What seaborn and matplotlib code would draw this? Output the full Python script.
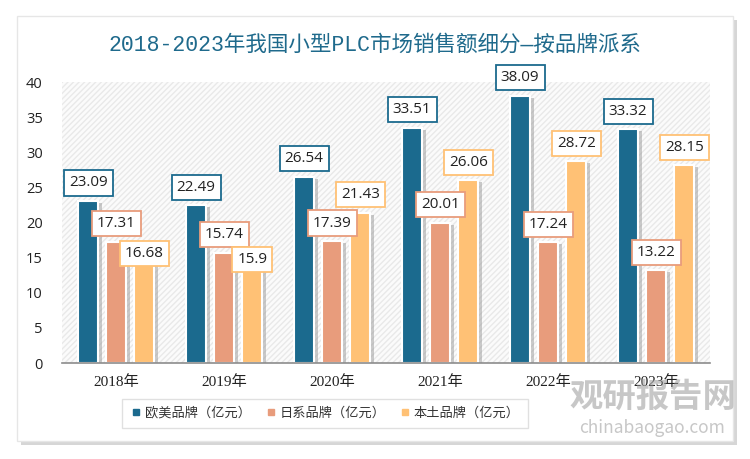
import matplotlib
matplotlib.use("Agg")
import matplotlib.pyplot as plt
import matplotlib.patheffects as pe
from matplotlib.patches import Rectangle, FancyBboxPatch
from matplotlib.lines import Line2D
import seaborn as sns
import pandas as pd

years = ["2018年", "2019年", "2020年", "2021年", "2022年", "2023年"]
series = ["欧美品牌（亿元）", "日系品牌（亿元）", "本土品牌（亿元）"]
western = [23.09, 22.49, 26.54, 33.51, 38.09, 33.32]
japanese = [17.31, 15.74, 17.39, 20.01, 17.24, 13.22]
domestic = [16.68, 15.9, 21.43, 26.06, 28.72, 28.15]
colors = ["#1B6A8E", "#E89C7C", "#FFC175"]
title = "2018-2023年我国小型PLC市场销售额细分—按品牌派系"

sns.set_theme(style="white")
plt.rcParams['font.family'] = ['Noto Sans CJK SC', 'DejaVu Sans']

df = pd.DataFrame({
    "year": years * 3,
    "series": [series[0]] * 6 + [series[1]] * 6 + [series[2]] * 6,
    "value": western + japanese + domestic,
})

fig = plt.figure(figsize=(7.5, 4.59), dpi=100)
fig.patch.set_facecolor("white")
# card with shadow
card = FancyBboxPatch((0.022, 0.04), 0.955, 0.925, boxstyle="square,pad=0",
                      transform=fig.transFigure, facecolor="white",
                      edgecolor="#E6E6E6", linewidth=1, zorder=-5,
                      path_effects=[pe.SimplePatchShadow(offset=(3, -3), shadow_rgbFace="#BBBBBB", alpha=0.6), pe.Normal()])
fig.patches.append(card)

ax = fig.add_axes([0.083, 0.209, 0.864, 0.612])
ax.set_zorder(1)
ax.set_facecolor("none")
sns.barplot(data=df, x="year", y="value", hue="series", palette=colors,
            width=0.78, ax=ax, legend=False, saturation=1)

# hatched background
bg = Rectangle((0, 0), 1, 1, transform=ax.transAxes, facecolor="#FBFBFB",
               edgecolor="#E9E9E9", hatch="//////", linewidth=0, zorder=0)
ax.add_patch(bg)

# label vertical offsets (points); the two crowded yellow labels sit lower
label_dy = {(2, 0): -11, (2, 1): -11}

bw = 0.185
for i, cont in enumerate(ax.containers):
    for j, p in enumerate(cont.patches):
        cx = p.get_x() + p.get_width() / 2
        p.set_x(cx - bw / 2)
        p.set_width(bw)
        p.set_edgecolor("white")
        p.set_linewidth(1.5)
        p.set_zorder(2)
        p.set_path_effects([pe.SimplePatchShadow(offset=(2.5, -1.5), shadow_rgbFace="#999999", alpha=0.5), pe.Normal()])
        h = p.get_height()
        lbl = f"{h:g}"
        dy = label_dy.get((i, j), 7.5)
        ax.annotate(lbl, (cx, h), xytext=(0, dy), textcoords="offset points",
                    ha="center", va="bottom", fontsize=11, color="#222222",
                    family=['Open Sans', 'DejaVu Sans'], zorder=5 + i,
                    bbox=dict(boxstyle="square,pad=0.33", facecolor="white",
                              edgecolor=colors[i], linewidth=1.3))

ax.set_ylim(0, 40)
ax.set_xlim(-0.5, 5.5)
ax.set_yticks(range(0, 41, 5))
ax.set_xlabel("")
ax.set_ylabel("")
for s in ["top", "right", "left"]:
    ax.spines[s].set_visible(False)
ax.spines["bottom"].set_color("#8C8C8C")
ax.spines["bottom"].set_linewidth(1.2)
ax.spines["bottom"].set_zorder(6)
ax.tick_params(axis="y", length=0, labelsize=10.5, colors="#222222", pad=14)
ax.tick_params(axis="x", length=0, labelsize=11, colors="#222222", pad=9)
for t in ax.get_xticklabels():
    t.set_family(['Liberation Serif', 'Noto Sans CJK SC'])
for t in ax.get_yticklabels():
    t.set_family(['Open Sans', 'DejaVu Sans'])

fig.text(0.5, 0.902, title, ha="center", va="center", fontsize=15.5,
         color="#1F6A8C", family=['Liberation Mono', 'Noto Sans CJK SC'])

handles = [Line2D([0], [0], marker="s", linestyle="", markersize=4.5,
                  markerfacecolor=c, markeredgecolor=c) for c in colors]
leg = fig.legend(handles, series, loc="center", bbox_to_anchor=(0.433, 0.1),
                 ncol=3, frameon=True, fontsize=9.5, handletextpad=0.15,
                 handlelength=1.0, columnspacing=1.0, borderpad=0.6, fancybox=False)
leg.get_frame().set_edgecolor("#D9D9D9")
leg.get_frame().set_linewidth(1)
for t in leg.get_texts():
    t.set_color("#333333")

# watermark
fig.text(0.87, 0.135, "观研报告网", ha="center", va="center", fontsize=24,
         color="#9A9A9A", alpha=0.55, fontweight="bold", zorder=10)
fig.text(0.87, 0.068, "chinabaogao.com", ha="center", va="center", fontsize=12.5,
         color="#9A9A9A", alpha=0.55, zorder=10)

fig.savefig("out.png", dpi=100)
